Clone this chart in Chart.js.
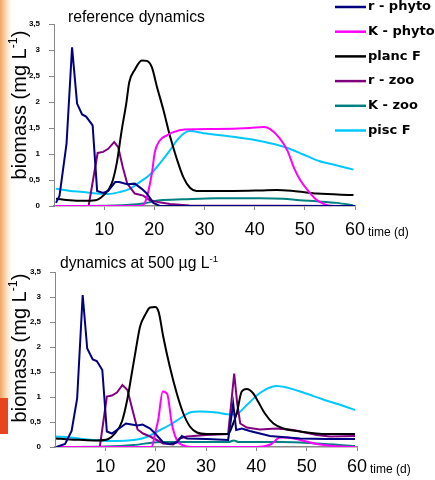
<!DOCTYPE html>
<html>
<head>
<meta charset="utf-8">
<script src="https://cdn.jsdelivr.net/npm/chart.js@4.4.0/dist/chart.umd.min.js"></script>
<style>
  html, body { margin: 0; padding: 0; background: #fff; }
  body { width: 435px; height: 480px; position: relative; overflow: hidden; }
  .strip { position: absolute; left: 0; top: 0; width: 12px; height: 400px;
    background: linear-gradient(to right, rgba(238,150,70,0.85), rgba(250,205,150,0.45) 65%, rgba(255,255,255,0)); }
  .band { position: absolute; left: 0; top: 398px; width: 8px; height: 36px; background: #e8451c; }
  canvas { position: absolute; left: 0; }
</style>
</head>
<body>
<div class="strip"></div>
<div class="band"></div>
<canvas id="topChart" width="435" height="240" style="top:0"></canvas>
<canvas id="bottomChart" width="435" height="240" style="top:240px"></canvas>
<script>
// series shared by both panels
const seriesNames = ['r - phyto', 'K - phyto', 'planc F', 'r - zoo', 'K - zoo', 'pisc F'];
const seriesColors = ['#000080', '#ff00ff', '#000000', '#800080', '#008080', '#00c8ff'];
const seriesSmooth = [false, true, true, false, true, true];
const yTicks = [0, 0.5, 1, 1.5, 2, 2.5, 3, 3.5];
const xTicks = [10, 20, 30, 40, 50, 60];

// reference dynamics (top panel)
const refRPhytoDay = [0.4, 1.1, 2.5, 3.6, 4.6, 5.6, 6.4, 7.7, 8.6, 9.8, 10.8, 12.2, 13.0, 14.6, 16.1, 17.5, 18.5, 19.8, 21.1, 60];
const refRPhytoVal = [0.06, 0.2, 1.2, 3.05, 1.97, 1.76, 1.72, 1.55, 0.29, 0.25, 0.29, 0.46, 0.46, 0.42, 0.43, 0.33, 0.24, 0.06, 0, 0];
const refKPhytoDay = [0.4, 17.2, 18.2, 19.5, 20.1, 21.1, 22.5, 23.8, 26.0, 32.4, 39.0, 41.8, 43.1, 45.0, 46.5, 47.9, 49.2, 50.6, 52.2, 54.0, 56.0, 60];
const refKPhytoVal = [0, 0, 0.08, 0.62, 1.04, 1.26, 1.36, 1.42, 1.47, 1.48, 1.50, 1.52, 1.48, 1.30, 1.07, 0.72, 0.48, 0.30, 0.13, 0.03, 0, 0];
const refPlancDay = [0.4, 3.2, 5.8, 8.2, 9.8, 11.5, 12.5, 13.5, 14.4, 15.0, 16.1, 17.5, 18.5, 19.5, 20.5, 21.8, 23.1, 24.5, 25.8, 27.1, 28.4, 35.7, 41.1, 44.4, 47.7, 52.4, 59.7];
const refPlancVal = [0.14, 0.11, 0.1, 0.11, 0.2, 0.43, 0.82, 1.46, 1.97, 2.38, 2.62, 2.80, 2.79, 2.67, 2.3, 1.85, 1.35, 0.9, 0.55, 0.35, 0.29, 0.29, 0.30, 0.31, 0.29, 0.24, 0.21];
const refRZooDay = [0.4, 6.9, 8.7, 9.8, 10.8, 12.0, 12.8, 13.7, 14.6, 16.1, 17.8, 19.1, 21.0, 23.1, 27.0, 60];
const refRZooVal = [0, 0, 1.02, 1.04, 1.10, 1.23, 1.13, 0.75, 0.43, 0.24, 0.2, 0.11, 0.07, 0.04, 0.01, 0];
const refKZooDay = [0.4, 12, 17.8, 21.1, 25.8, 32.4, 41.1, 45.7, 49.0, 52.4, 56.4, 59.7];
const refKZooVal = [0, 0.01, 0.05, 0.11, 0.13, 0.15, 0.15, 0.14, 0.11, 0.09, 0.06, 0.01];
const refPiscDay = [0.4, 3.2, 5.8, 8.5, 10.8, 13.2, 15.1, 17.1, 19.1, 21.1, 23.1, 24.5, 25.8, 27.1, 29.8, 35.7, 41.1, 46.4, 49.7, 53.0, 56.4, 59.7];
const refPiscVal = [0.33, 0.29, 0.27, 0.24, 0.23, 0.27, 0.33, 0.46, 0.6, 0.82, 1.07, 1.26, 1.39, 1.44, 1.40, 1.33, 1.25, 1.12, 0.99, 0.86, 0.78, 0.70];

// dynamics at 500 ug/L (bottom panel)
const p500RPhytoDay = [0.3, 2.0, 3.3, 4.4, 5.5, 6.4, 7.5, 8.3, 9.4, 10.3, 11.3, 14.1, 15.2, 16.4, 17.4, 18.9, 19.9, 21.5, 22.8, 24.2, 25.2, 26.2, 30.1, 34.4, 35.4, 36.0, 37.1, 38.7, 40.7, 42.7, 48.7, 54.0, 59.6];
const p500RPhytoVal = [0, 0.06, 0.32, 0.97, 3.04, 1.97, 1.75, 1.72, 1.54, 0.31, 0.27, 0.47, 0.45, 0.43, 0.45, 0.37, 0.27, 0.09, 0.06, 0.09, 0.22, 0.17, 0.16, 0.14, 0.87, 0.34, 0.37, 0.32, 0.27, 0.22, 0.17, 0.16, 0.16];
const p500KPhytoDay = [0.3, 19.2, 19.9, 20.5, 21.4, 22.3, 23.2, 24.2, 25.5, 27.0, 40.0, 43.0, 44.7, 46.0, 48.7, 52.0, 55.3, 59.6];
const p500KPhytoVal = [0, 0, 0.28, 0.54, 1.11, 1.06, 0.47, 0.14, 0.03, 0, 0, 0.06, 0.19, 0.19, 0.14, 0.06, 0.02, 0];
const p500PlancDay = [0.2, 3.0, 5.6, 8.3, 10.6, 11.9, 13.3, 14.4, 15.2, 16.1, 16.9, 17.9, 18.9, 19.9, 20.6, 21.5, 22.8, 24.2, 25.5, 26.8, 28.2, 30.1, 34.4, 35.4, 36.1, 37.1, 38.1, 39.4, 40.4, 41.7, 43.4, 45.4, 48.7, 54.0, 59.6];
const p500PlancVal = [0.17, 0.15, 0.14, 0.13, 0.16, 0.27, 0.51, 0.97, 1.44, 1.97, 2.41, 2.64, 2.79, 2.80, 2.70, 2.21, 1.61, 1.07, 0.67, 0.41, 0.29, 0.26, 0.26, 0.47, 0.67, 1.11, 1.16, 1.07, 0.9, 0.67, 0.47, 0.37, 0.31, 0.26, 0.26];
const p500RZooDay = [0.3, 8.9, 10.3, 11.3, 12.3, 13.4, 14.4, 15.4, 16.4, 17.5, 18.9, 20.2, 21.5, 23.5, 24.8, 26.2, 30.1, 34.4, 35.6, 36.2, 36.8, 38.1, 40.7, 44.0, 47.4, 52.0, 54.6, 59.6];
const p500RZooVal = [0, 0, 1.01, 1.03, 1.09, 1.24, 1.14, 0.74, 0.35, 0.27, 0.21, 0.14, 0.07, 0.05, 0.17, 0.21, 0.24, 0.26, 1.47, 0.87, 0.47, 0.39, 0.35, 0.37, 0.34, 0.24, 0.21, 0.22];
const p500KZooDay = [0.2, 10.0, 15.6, 21.0, 30.0, 34.5, 35.5, 36.5, 45.0, 52.0, 59.6];
const p500KZooVal = [0, 0.01, 0.04, 0.1, 0.1, 0.1, 0.13, 0.1, 0.1, 0.07, 0.02];
const p500PiscDay = [0.2, 3.0, 5.6, 8.9, 12.3, 15.6, 17.3, 18.9, 20.9, 22.8, 24.8, 26.8, 28.8, 32.1, 34.8, 36.1, 38.1, 40.7, 44.0, 46.0, 49.3, 53.3, 57.3, 59.6];
const p500PiscVal = [0.21, 0.19, 0.16, 0.13, 0.12, 0.14, 0.17, 0.23, 0.34, 0.44, 0.57, 0.69, 0.71, 0.69, 0.65, 0.66, 0.84, 1.08, 1.22, 1.19, 1.09, 0.95, 0.82, 0.74];

const FONT = '"Liberation Sans", Arial, sans-serif';

function pts(days, vals) {
    return days.map((d, i) => ({ x: d, y: vals[i] }));
}

function makeDatasets(list) {
    return list.map((s, i) => ({
        label: seriesNames[i],
        data: pts(s[0], s[1]),
        borderColor: seriesColors[i],
        borderWidth: 2,
        pointRadius: 0,
        fill: false,
        cubicInterpolationMode: seriesSmooth[i] ? 'monotone' : 'default',
        tension: 0
    }));
}

// text with a small raised part, e.g. L-1
function drawSup(ctx, parts, x, y, size) {
    let cx = x;
    parts.forEach(p => {
        const s = p.sup ? size * 0.62 : size;
        ctx.font = s + 'px ' + FONT;
        ctx.fillText(p.t, cx, p.sup ? y - size * 0.32 : y);
        cx += ctx.measureText(p.t).width;
    });
}
function partsWidth(ctx, parts, size) {
    let w = 0;
    parts.forEach(p => {
        ctx.font = (p.sup ? size * 0.62 : size) + 'px ' + FONT;
        w += ctx.measureText(p.t).width;
    });
    return w;
}

function decor(cfg) {
    return {
        id: 'decor',
        afterDraw(chart) {
            const ctx = chart.ctx;
            const area = chart.chartArea;
            const xs = chart.scales.x;
            ctx.save();
            ctx.fillStyle = '#000';
            ctx.textBaseline = 'middle';
            ctx.textAlign = 'left';
            drawSup(ctx, cfg.title, cfg.titleX, cfg.titleY, 15.7);

            // y axis title, rotated
            const yt = [{ t: 'biomass (mg L' }, { t: '-1', sup: true }, { t: ')' }];
            ctx.save();
            ctx.translate(20, cfg.yTitleY);
            ctx.rotate(-Math.PI / 2);
            drawSup(ctx, yt, -partsWidth(ctx, yt, 20) / 2, 0, 20);
            ctx.restore();

            ctx.font = '12px ' + FONT;
            ctx.fillText('time (d)', area.right + 13, xs.bottom - cfg.timeUp);

            if (cfg.legend) {
                ctx.font = 'bold 13px "DejaVu Sans", sans-serif';
                chart.data.datasets.forEach((ds, i) => {
                    const ly = 7 + i * 24.7;
                    ctx.strokeStyle = ds.borderColor;
                    ctx.lineWidth = 2.5;
                    ctx.beginPath();
                    ctx.moveTo(335, ly);
                    ctx.lineTo(366, ly);
                    ctx.stroke();
                    ctx.fillText(ds.label, 368, ly);
                });
            }
            ctx.restore();
        }
    };
}

function makeChart(id, datasets, cfg) {
    return new Chart(document.getElementById(id), {
        type: 'line',
        data: { datasets: datasets },
        options: {
            responsive: false,
            animation: false,
            layout: { padding: { left: 0, top: cfg.top, right: cfg.right, bottom: 0 } },
            plugins: { legend: { display: false }, tooltip: { enabled: false } },
            scales: {
                x: {
                    type: 'linear',
                    min: 0,
                    max: 60,
                    afterFit: s => { s.height = cfg.xHeight; },
                    afterBuildTicks: s => { s.ticks = xTicks.map(v => ({ value: v })); },
                    border: { color: '#888', width: 1.5 },
                    grid: { drawOnChartArea: false, tickLength: 4, color: '#888' },
                    ticks: {
                        padding: cfg.xPad,
                        maxRotation: 0,
                        autoSkip: false,
                        color: '#000',
                        font: { family: FONT, size: 18 }
                    }
                },
                y: {
                    min: 0,
                    max: 3.5,
                    afterFit: s => { s.width = cfg.yWidth; },
                    afterBuildTicks: s => { s.ticks = yTicks.map(v => ({ value: v })); },
                    border: { color: '#888', width: 1 },
                    grid: { drawOnChartArea: false, tickLength: 5, color: '#888' },
                    ticks: {
                        padding: 9,
                        color: '#000',
                        font: { family: FONT, size: 8, weight: 'bold' },
                        callback: v => String(v).replace('.', ',')
                    }
                }
            }
        },
        plugins: [decor(cfg)]
    });
}

makeChart('topChart', makeDatasets([
    [refRPhytoDay, refRPhytoVal],
    [refKPhytoDay, refKPhytoVal],
    [refPlancDay, refPlancVal],
    [refRZooDay, refRZooVal],
    [refKZooDay, refKZooVal],
    [refPiscDay, refPiscVal]
]), {
    top: 24, right: 80, xHeight: 34, yWidth: 54, xPad: 9,
    title: [{ t: 'reference dynamics' }], titleX: 68, titleY: 18,
    yTitleY: 105, timeUp: 7.5, legend: true
});

makeChart('bottomChart', makeDatasets([
    [p500RPhytoDay, p500RPhytoVal],
    [p500KPhytoDay, p500KPhytoVal],
    [p500PlancDay, p500PlancVal],
    [p500RZooDay, p500RZooVal],
    [p500KZooDay, p500KZooVal],
    [p500PiscDay, p500PiscVal]
]), {
    top: 32, right: 78, xHeight: 33, yWidth: 55, xPad: 5,
    title: [{ t: 'dynamics at 500 µg L' }, { t: '-1', sup: true }], titleX: 60, titleY: 24,
    yTitleY: 108, timeUp: 10, legend: false
});
</script>
</body>
</html>
